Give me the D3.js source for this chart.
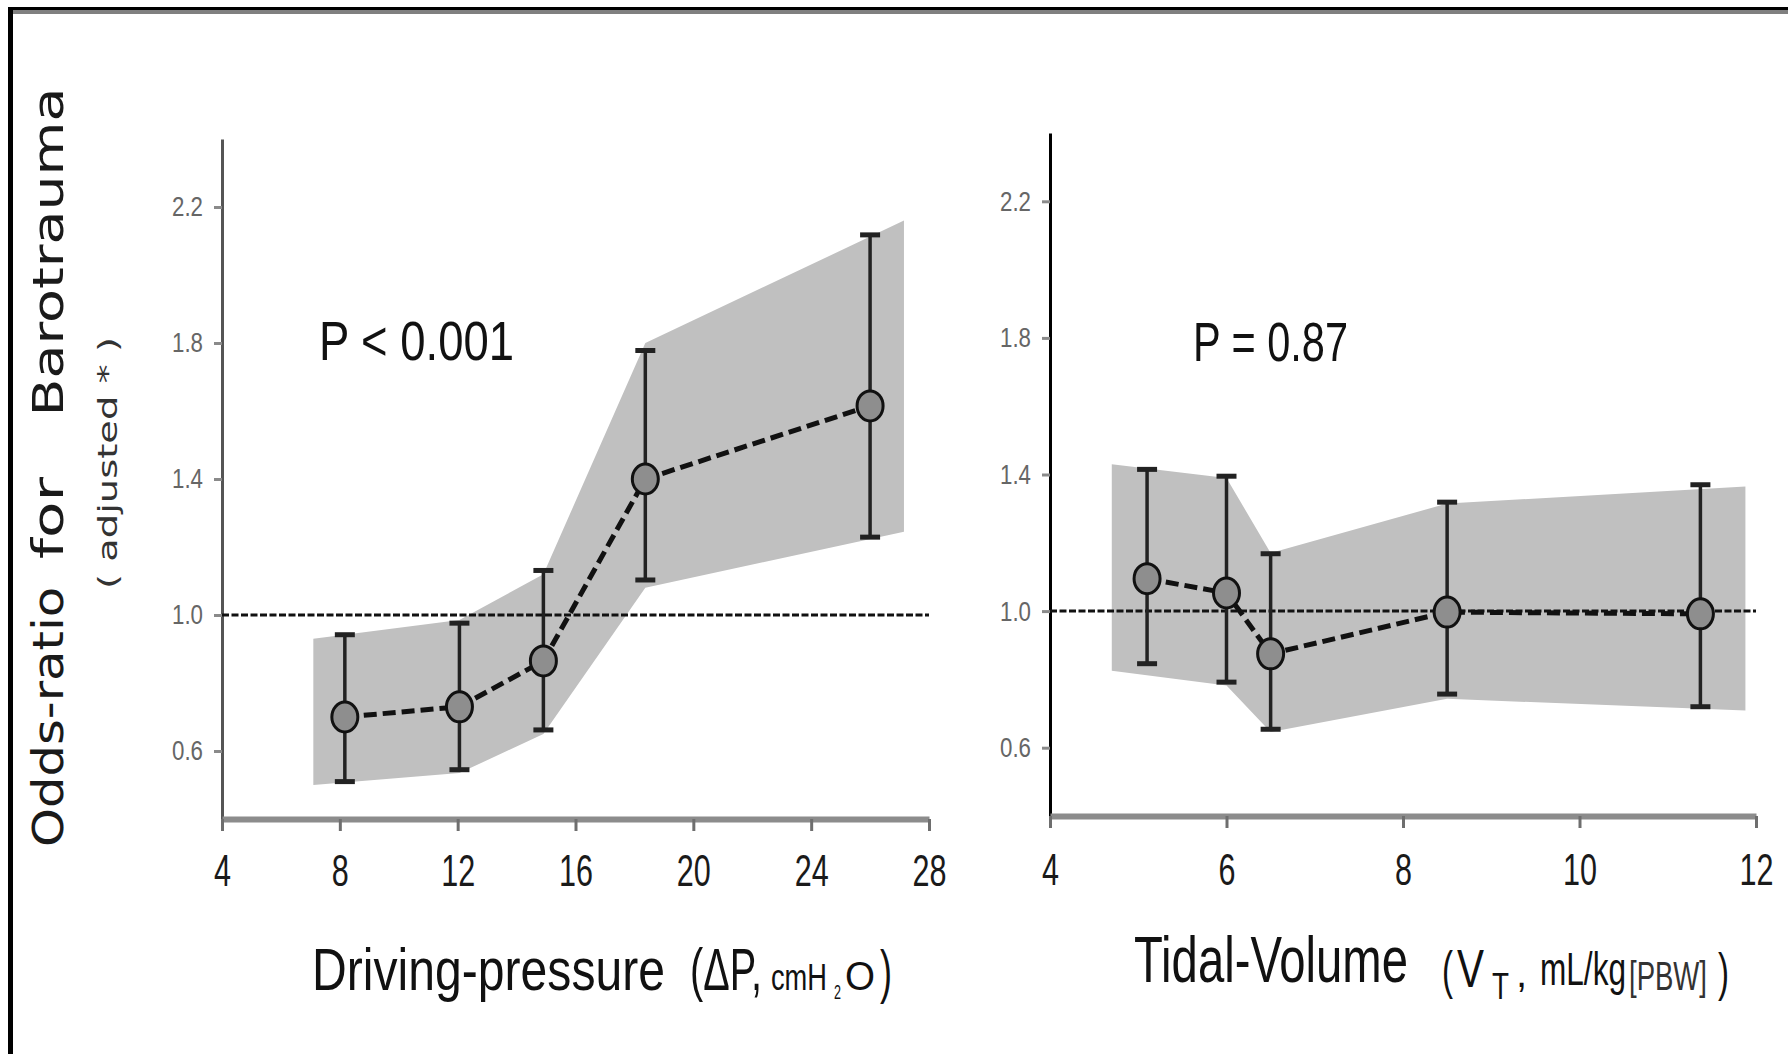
<!DOCTYPE html>
<html>
<head>
<meta charset="utf-8">
<script src="https://cdn.jsdelivr.net/npm/d3@7"></script>
<style>
  html, body { margin: 0; padding: 0; background: #fff; }
  svg { display: block; }
</style>
</head>
<body>
<svg id="chart" width="1788" height="1054"></svg>
<script>
// left panel: driving pressure (adjusted odds-ratio with 95% CI)
var dpX = [8.17, 12.06, 14.91, 18.37, 26.0];
var dpOR = [0.70, 0.73, 0.865, 1.40, 1.615];
var dpLow = [0.51, 0.545, 0.662, 1.103, 1.229];
var dpHigh = [0.942, 0.976, 1.131, 1.778, 2.118];
var dpBandX = [7.1, 12.06, 14.91, 18.37, 27.15];
var dpBandLow = [0.50, 0.535, 0.65, 1.08, 1.245];
var dpBandHigh = [0.93, 0.985, 1.12, 1.80, 2.16];

// right panel: tidal volume
var vtX = [5.1, 6.0, 6.5, 8.5, 11.37];
var vtOR = [1.095, 1.053, 0.875, 0.997, 0.992];
var vtLow = [0.846, 0.792, 0.654, 0.757, 0.72];
var vtHigh = [1.415, 1.395, 1.168, 1.319, 1.37];
var vtBandX = [4.70, 6.0, 6.5, 8.5, 11.88];
var vtBandLow = [0.825, 0.782, 0.646, 0.743, 0.709];
var vtBandHigh = [1.43, 1.39, 1.17, 1.315, 1.365];

// ticks
var yTicks = [0.6, 1.0, 1.4, 1.8, 2.2];
var dpTicks = [4, 8, 12, 16, 20, 24, 28];
var vtTicks = [4, 6, 8, 10, 12];

var NARROW = '"Liberation Sans Narrow", "Arial Narrow", "Liberation Sans", sans-serif';

var svg = d3.select("#chart");

// outer frame (top and left edges only)
svg.append("rect").attr("x", 8).attr("y", 10).attr("width", 1780).attr("height", 4).attr("fill", "#808080");
svg.append("rect").attr("x", 8).attr("y", 7).attr("width", 1780).attr("height", 3).attr("fill", "#000");
svg.append("rect").attr("x", 8).attr("y", 7).attr("width", 5).attr("height", 1047).attr("fill", "#000");

function drawPanel(o) {
  var x = d3.scaleLinear().domain([o.ticks[0], o.ticks[o.ticks.length - 1]]).range(o.xRange);
  var y = d3.scaleLinear().domain([0.4, 2.4]).range(o.yRange);
  var g = svg.append("g");

  // shaded confidence band
  var bandData = o.bandX.map(function(v, i) { return {x: v, lo: o.bandLow[i], hi: o.bandHigh[i]}; });
  var area = d3.area()
      .x(function(d) { return x(d.x); })
      .y0(function(d) { return y(d.lo); })
      .y1(function(d) { return y(d.hi); });
  g.append("path").datum(bandData).attr("d", area).attr("fill", "#c0c0c0");

  // y axis
  var ya = g.append("g")
      .attr("transform", "translate(" + o.xRange[0] + ",0)")
      .call(d3.axisLeft(y).tickValues(yTicks).tickFormat(d3.format(".1f"))
        .tickSize(8).tickSizeOuter(0).tickPadding(11));
  ya.attr("font-family", NARROW);
  ya.select(".domain").attr("stroke", o.yAxisColor).attr("stroke-width", 3);
  ya.selectAll(".tick line").attr("stroke", "#8a8a8a").attr("stroke-width", 3);
  ya.selectAll(".tick text").attr("font-size", 28).attr("fill", "#666")
    .attr("textLength", 31).attr("lengthAdjust", "spacingAndGlyphs");

  // x axis
  var xa = g.append("g")
      .attr("transform", "translate(0," + y(0.4) + ")")
      .call(d3.axisBottom(x).tickValues(o.ticks).tickSize(12).tickSizeOuter(0).tickPadding(o.tickPad));
  xa.attr("font-family", NARROW);
  xa.select(".domain").attr("stroke", "#8c8c8c").attr("stroke-width", 6);
  xa.selectAll(".tick line").attr("stroke", "#6e6e6e").attr("stroke-width", 3);
  xa.selectAll(".tick text").attr("font-size", 44).attr("fill", "#1a1a1a")
    .attr("textLength", function(d) { return String(d).length * 17; })
    .attr("lengthAdjust", "spacingAndGlyphs");

  // reference line at OR = 1
  g.append("line")
      .attr("x1", x.range()[0]).attr("x2", x.range()[1])
      .attr("y1", y(1)).attr("y2", y(1))
      .attr("stroke", "#111").attr("stroke-width", 3).attr("stroke-dasharray", "7,2.5");

  var pts = o.xs.map(function(v, i) { return {x: v, or: o.or[i], lo: o.lo[i], hi: o.hi[i]}; });

  // error bars
  var eb = g.selectAll(".eb").data(pts).enter().append("g");
  eb.append("line")
      .attr("x1", function(d) { return x(d.x); }).attr("x2", function(d) { return x(d.x); })
      .attr("y1", function(d) { return y(d.lo); }).attr("y2", function(d) { return y(d.hi); })
      .attr("stroke", "#222").attr("stroke-width", 3.5);
  ["lo", "hi"].forEach(function(k) {
    eb.append("line")
        .attr("x1", function(d) { return x(d.x) - 10; }).attr("x2", function(d) { return x(d.x) + 10; })
        .attr("y1", function(d) { return y(d[k]); }).attr("y2", function(d) { return y(d[k]); })
        .attr("stroke", "#222").attr("stroke-width", 5);
  });

  // dashed connecting line
  var line = d3.line().x(function(d) { return x(d.x); }).y(function(d) { return y(d.or); });
  g.append("path").datum(pts).attr("d", line)
      .attr("fill", "none").attr("stroke", "#111").attr("stroke-width", 5)
      .attr("stroke-dasharray", "13,6");

  // point markers
  g.selectAll(".pt").data(pts).enter().append("ellipse")
      .attr("cx", function(d) { return x(d.x); })
      .attr("cy", function(d) { return y(d.or); })
      .attr("rx", 13).attr("ry", 15)
      .attr("fill", "#8e8e8e").attr("stroke", "#111").attr("stroke-width", 3);
}

drawPanel({
  xs: dpX, or: dpOR, lo: dpLow, hi: dpHigh,
  bandX: dpBandX, bandLow: dpBandLow, bandHigh: dpBandHigh,
  ticks: dpTicks, xRange: [222, 929], yRange: [819, 139],
  yAxisColor: "#555", tickPad: 24
});

drawPanel({
  xs: vtX, or: vtOR, lo: vtLow, hi: vtHigh,
  bandX: vtBandX, bandLow: vtBandLow, bandHigh: vtBandHigh,
  ticks: vtTicks, xRange: [1050, 1756], yRange: [816, 133],
  yAxisColor: "#000", tickPad: 26
});

// text helper
function label(x, y, str, size, len, opts) {
  opts = opts || {};
  var t = svg.append("text")
      .attr("x", x).attr("y", y)
      .attr("font-family", opts.family || NARROW)
      .attr("font-size", size)
      .attr("fill", opts.fill || "#111")
      .attr("text-anchor", opts.anchor || "start")
      .text(str);
  if (len) t.attr("textLength", len).attr("lengthAdjust", opts.adjust || "spacingAndGlyphs");
  if (opts.rotate) t.attr("transform", "rotate(-90," + x + "," + y + ")");
  return t;
}

// a title made of several runs in one text element
function richLabel(parts) {
  var t = svg.append("text").attr("font-family", NARROW).attr("fill", "#111");
  parts.forEach(function(p) {
    var s = t.append("tspan")
        .attr("x", p[0]).attr("y", p[1])
        .attr("font-size", p[3])
        .text(p[2]);
    if (p[4]) s.attr("textLength", p[4]).attr("lengthAdjust", "spacingAndGlyphs");
    if (p[5]) s.attr("fill", p[5]);
  });
  return t;
}

// p-values
label(319, 360, "P < 0.001", 56, 195);
label(1193, 361, "P = 0.87", 56, 155);

// y axis title (rotated)
var DJ = '"DejaVu Sans", Verdana, sans-serif';
label(63, 717, "Odds-ratio", 43, 260, {family: DJ, anchor: "middle", rotate: true, fill: "#1a1a1a"});
label(63, 518, "for", 43, 82, {family: DJ, anchor: "middle", rotate: true, fill: "#1a1a1a"});
label(63, 252, "Barotrauma", 43, 329, {family: DJ, anchor: "middle", rotate: true, fill: "#1a1a1a"});
label(117, 463, "( adjusted * )", 27, 252, {family: DJ, anchor: "middle", rotate: true, fill: "#333"});

// left x title: Driving-pressure (ΔP, cmH2O)
richLabel([
  [312, 990, "Driving-pressure", 60, 353],
  [690, 990, "(ΔP,", 60, 72],
  [771, 990, "cmH", 36, 56],
  [834, 999, "2", 20, 7],
  [845, 990, "O", 40, 30],
  [880, 992, ")", 60, 12]
]);

// right x title: Tidal-Volume (VT , mL/kg[PBW] )
richLabel([
  [1134, 982, "Tidal-Volume", 64, 274],
  [1442, 988, "(", 52, 11],
  [1457, 987, "V", 54, 27],
  [1492, 999, "T", 36, 17],
  [1516, 987, ",", 40, 0],
  [1540, 985, "mL/kg", 46, 86],
  [1629, 990, "[PBW]", 40, 78, "#333"],
  [1718, 990, ")", 52, 11]
]);
</script>
</body>
</html>
